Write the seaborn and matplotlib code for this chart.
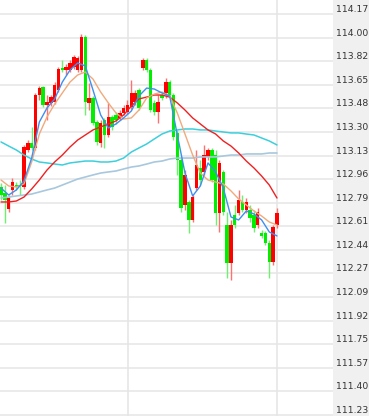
import numpy as np
import pandas as pd
import matplotlib
matplotlib.use("Agg")
import matplotlib.pyplot as plt
import seaborn as sns

# ---- data ----
opens = [112.902, 112.858, 112.740, 112.880, 112.916, 112.916, 112.902, 113.173, 113.224, 113.188,
         113.576, 113.635, 113.503, 113.518, 113.525, 113.613, 113.774, 113.759, 113.759, 113.781,
         113.759, 113.759, 114.001, 113.518, 113.554, 113.378, 113.224, 113.393, 113.283, 113.415,
         113.430, 113.408, 113.444, 113.452, 113.488, 113.525, 113.613, 113.774, 113.833, 113.759,
         113.518, 113.452, 113.576, 113.591, 113.671, 113.576, 113.298, 113.100, 112.770, 112.792,
         112.660, 112.894, 113.041, 113.012, 113.122, 113.173, 113.136, 112.711, 113.012, 112.623,
         112.345, 112.696, 112.711, 112.792, 112.733, 112.733, 112.696, 112.623, 112.564, 112.564,
         112.491, 112.352, 112.623]
closes = [112.843, 112.806, 112.821, 112.938, 112.902, 112.909, 113.195, 113.224, 113.188, 113.576,
          113.627, 113.503, 113.525, 113.562, 113.649, 113.767, 113.759, 113.781, 113.811, 113.855,
          113.847, 114.001, 113.525, 113.554, 113.371, 113.232, 113.371, 113.283, 113.415, 113.342,
          113.393, 113.444, 113.481, 113.503, 113.591, 113.591, 113.481, 113.833, 113.759, 113.466,
          113.452, 113.525, 113.554, 113.671, 113.576, 113.268, 113.100, 112.748, 112.990, 112.660,
          112.828, 113.063, 112.953, 113.136, 113.173, 112.953, 112.711, 113.078, 112.718, 112.345,
          112.623, 112.623, 112.806, 112.733, 112.792, 112.674, 112.601, 112.718, 112.543, 112.491,
          112.352, 112.608, 112.711]
highs = [112.931, 112.916, 112.843, 112.968, 112.938, 112.953, 113.210, 113.246, 113.342, 113.591,
         113.642, 113.642, 113.576, 113.576, 113.671, 113.781, 113.833, 113.803, 113.833, 113.869,
         113.862, 114.023, 114.016, 113.664, 113.569, 113.393, 113.393, 113.408, 113.518, 113.430,
         113.452, 113.466, 113.503, 113.540, 113.686, 113.613, 113.627, 113.847, 113.847, 113.774,
         113.540, 113.576, 113.598, 113.701, 113.686, 113.591, 113.320, 113.114, 113.026, 112.806,
         112.843, 113.173, 113.100, 113.210, 113.188, 113.188, 113.173, 113.100, 113.026, 112.718,
         112.660, 112.770, 112.880, 112.843, 112.821, 112.770, 112.733, 112.748, 112.586, 112.579,
         112.513, 112.623, 112.748]
lows = [112.806, 112.638, 112.718, 112.843, 112.880, 112.843, 112.887, 113.158, 113.173, 113.173,
        113.540, 113.488, 113.393, 113.496, 113.510, 113.598, 113.745, 113.723, 113.745, 113.767,
        113.745, 113.745, 113.430, 113.466, 113.356, 113.210, 113.195, 113.188, 113.268, 113.320,
        113.364, 113.393, 113.430, 113.437, 113.474, 113.503, 113.466, 113.759, 113.745, 113.452,
        113.430, 113.371, 113.540, 113.554, 113.562, 113.246, 112.990, 112.718, 112.733, 112.564,
        112.645, 112.880, 112.916, 112.990, 113.100, 112.938, 112.623, 112.572, 112.696, 112.235,
        112.220, 112.601, 112.696, 112.718, 112.711, 112.645, 112.572, 112.601, 112.528, 112.476,
        112.235, 112.330, 112.601]

# moving-average lines, sampled every 2nd bar
ma_index = list(range(0, 73, 2))
ma5 = [112.894, 112.843, 112.880, 112.946, 113.114, 113.378, 113.481, 113.547, 113.671, 113.759,
       113.811, 113.789, 113.613, 113.430, 113.334, 113.364, 113.408, 113.459, 113.569, 113.627,
       113.620, 113.591, 113.569, 113.283, 113.004, 112.836, 112.909, 113.078, 113.012, 112.894,
       112.682, 112.660, 112.726, 112.704, 112.660, 112.572, 112.543]
ma10 = [112.953, 112.909, 112.902, 112.924, 113.085, 113.290, 113.415, 113.510, 113.591, 113.671,
        113.723, 113.745, 113.693, 113.598, 113.518, 113.444, 113.400, 113.408, 113.466, 113.554,
        113.583, 113.598, 113.569, 113.444, 113.290, 113.136, 113.004, 112.953, 112.938, 112.924,
        112.873, 112.814, 112.770, 112.726, 112.689, 112.645, 112.623]
ma20 = [112.792, 112.792, 112.799, 112.828, 112.887, 112.953, 113.026, 113.085, 113.136, 113.195,
        113.246, 113.283, 113.320, 113.342, 113.364, 113.386, 113.430, 113.495, 113.547, 113.561,
        113.576, 113.576, 113.561, 113.518, 113.466, 113.408, 113.364, 113.320, 113.290, 113.239,
        113.202, 113.151, 113.092, 113.041, 112.982, 112.916, 112.821]
ma60 = [113.232, 113.202, 113.173, 113.136, 113.107, 113.085, 113.078, 113.070, 113.063, 113.078,
        113.085, 113.092, 113.092, 113.085, 113.085, 113.092, 113.114, 113.158, 113.188, 113.217,
        113.254, 113.290, 113.312, 113.320, 113.327, 113.327, 113.320, 113.320, 113.312, 113.305,
        113.298, 113.298, 113.290, 113.283, 113.261, 113.239, 113.210]
ma120 = [112.821, 112.828, 112.836, 112.843, 112.850, 112.865, 112.880, 112.894, 112.916, 112.938,
         112.960, 112.975, 112.990, 113.004, 113.012, 113.019, 113.034, 113.048, 113.056, 113.070,
         113.085, 113.092, 113.107, 113.114, 113.114, 113.114, 113.122, 113.122, 113.122, 113.129,
         113.136, 113.136, 113.144, 113.144, 113.144, 113.151, 113.151]

tick_labels = ["114.17", "114.00", "113.82", "113.65", "113.48", "113.30", "113.13", "112.96",
               "112.79", "112.61", "112.44", "112.27", "112.09", "111.92", "111.75", "111.57",
               "111.40", "111.23"]
separators = [33.1, 72]

# ---- figure ----
sns.set_style("white")
plt.rcParams['font.family'] = ['DejaVu Sans']

W, H = 369, 416
fig = plt.figure(figsize=(W / 100, H / 100), dpi=100)
fig.patch.set_facecolor("white")
panel_x = 333
bg = fig.add_axes([panel_x / W, 0, 1 - panel_x / W, 1], zorder=0)
bg.set_facecolor("#f0f0f0")
bg.set_xticks([]); bg.set_yticks([])
for sp in bg.spines.values():
    sp.set_visible(False)

ax = fig.add_axes([0, 0, panel_x / W, 1], zorder=2)
ax.patch.set_alpha(0)

df = pd.DataFrame({"i": np.arange(len(opens)), "o": opens, "c": closes, "h": highs, "l": lows})
up = df[df.c >= df.o]
dn = df[df.c < df.o]

# grid
grid_vals = list(np.linspace(114.17, 111.23, len(tick_labels)))
for g in grid_vals:
    ax.axhline(g, color="#e9e9e9", lw=1.3, zorder=0)
for s in separators:
    ax.axvline(s, color="#e6e6e6", lw=1.2, zorder=0)

# wicks
ax.vlines(up.i, up.l, up.h, color="#ff7070", lw=1.0, zorder=2)
ax.vlines(dn.i, dn.l, dn.h, color="#70f070", lw=1.0, zorder=2)
# bodies
bw = 0.88
ax.bar(up.i, np.maximum(up.c - up.o, 0.004), bottom=up.o, width=bw, color="#ff0000", lw=0, zorder=3)
ax.bar(dn.i, np.maximum(dn.o - dn.c, 0.004), bottom=dn.c, width=bw, color="#00ee00", lw=0, zorder=3)

ma = pd.DataFrame({"i": ma_index, "ma5": ma5, "ma10": ma10, "ma20": ma20, "ma60": ma60, "ma120": ma120})
for col, colr, lw in [("ma120", "#a8c8de", 1.2), ("ma60", "#3ccfdc", 1.1), ("ma20", "#f02020", 1.0),
                      ("ma10", "#f0aa7c", 1.0), ("ma5", "#3d8ff0", 1.0)]:
    sns.lineplot(data=ma, x="i", y=col, color=colr, lw=lw, ax=ax, zorder=4)

px_per_bar = 3.833
ax.set_xlim(-1 / px_per_bar, (panel_x - 1) / px_per_bar)
ax.set_ylim(114.17 - 402 / 136.4, 114.17 + 14 / 136.4)
ax.set_xlabel("")
ax.set_ylabel("")
ax.set_xticks([])
for sp in ax.spines.values():
    sp.set_visible(False)

ax.yaxis.tick_right()
ax.yaxis.set_label_position("right")
ax.set_yticks(grid_vals)
ax.set_yticklabels(tick_labels)
ax.tick_params(axis="y", which="both", left=False, right=False, labelleft=False, labelright=True,
               length=0, pad=2, labelsize=6.7, labelcolor="#333333")
for t in ax.get_yticklabels():
    t.set_va("bottom")

fig.savefig("out.png", dpi=100, facecolor="white")
